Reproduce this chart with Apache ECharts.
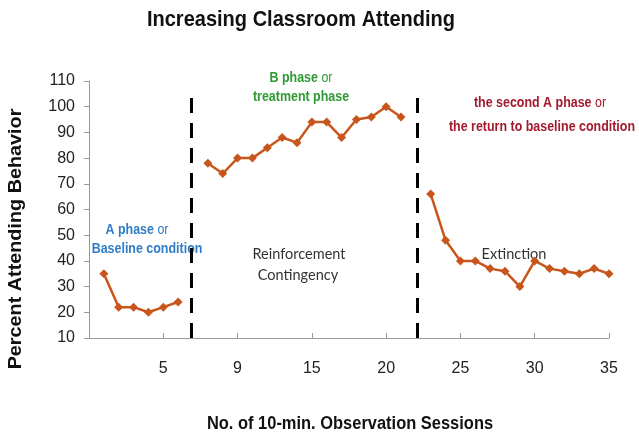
<!DOCTYPE html>
<html>
<head>
<meta charset="utf-8">
<script src="https://cdn.jsdelivr.net/npm/echarts@6/dist/echarts.min.js"></script>
<style>html,body{margin:0;padding:0;background:#fff;}#c{width:639px;height:434px;}</style>
</head>
<body>
<div id="c"></div>
<script>
// Data
var sessions = [1,2,3,4,5,6,7,8,9,10,11,12,13,14,15,16,17,18,19,20,21,22,23,24,25,26,27,28,29,30,31,32,33,34,35];
var attending = [35,22,22,20,22,24,null,78,74,80,80,84,88,86,94,94,88,95,96,100,96,null,66,48,40,40,37,36,30,40,37,36,35,37,35];
var xTickValues = [5,10,15,20,25,30,35];
var xTickLabels = ['5','9','15','20','25','30','35'];
var phaseChangeLines = [6.9, 22.1];
var phaseLineTop = 106;

var SANS = "'Liberation Sans','Arial',sans-serif";
var chart = echarts.init(document.getElementById('c'));
var points = sessions.map(function(s,i){ return [s, attending[i]]; });

var markData = phaseChangeLines.map(function(x){
  return [{coord:[x,10]},{coord:[x,phaseLineTop]}];
});

function rich(x, y, bold, reg, color){
  return {type:'text', x:x, y:y, scaleX:0.83, style:{
    text:'{b|'+bold+'}'+(reg?'{r|'+reg+'}':''), align:'center', verticalAlign:'middle',
    rich:{
      b:{fontFamily:SANS, fontWeight:'bold', fontSize:15, fill:color, color:color},
      r:{fontFamily:SANS, fontWeight:'normal', fontSize:15, fill:color, color:color}
    }
  }};
}
function plain(x, y, text){
  return {type:'text', x:x, y:y, style:{text:text, align:'center', verticalAlign:'middle', fontFamily:'Lato', fontSize:14.5, fill:'#333'}};
}
var blue = '#2F7DC6', green = '#2E9A33', red = '#A31A2D';

chart.setOption({
  animation:false,
  grid:{left:89, right:30, top:81, bottom:96},
  xAxis:{type:'value', min:0, max:35, interval:5,
    axisLine:{show:true, lineStyle:{color:'#999', width:1}},
    axisTick:{show:true, inside:true, length:5, lineStyle:{color:'#999'}},
    splitLine:{show:false},
    axisLabel:{margin:23, fontFamily:SANS, fontSize:16, color:'#222',
      formatter:function(v){ var i = xTickValues.indexOf(v); return i<0 ? '' : xTickLabels[i]; }}
  },
  yAxis:{type:'value', min:10, max:110, interval:10,
    axisLine:{show:true, lineStyle:{color:'#999', width:1}},
    axisTick:{show:true, inside:false, length:5, lineStyle:{color:'#999'}},
    splitLine:{show:false},
    axisLabel:{margin:14, fontFamily:SANS, fontSize:16, color:'#222'}
  },
  series:[{
    type:'line', data:points, connectNulls:false,
    symbol:'diamond', symbolSize:9,
    lineStyle:{color:'#C8561C', width:2.5},
    itemStyle:{color:'#C8561C'},
    markLine:{silent:true, symbol:['none','none'], label:{show:false},
      lineStyle:{color:'#000', width:3, type:[15,10]},
      data:markData}
  }],
  graphic:[
    {type:'text', x:301, y:20, scaleX:0.91, style:{text:'Increasing Classroom Attending', align:'center', verticalAlign:'middle', fontFamily:SANS, fontWeight:'bold', fontSize:22, fill:'#111'}},
    {type:'text', x:350, y:424, scaleX:0.914, style:{text:'No. of 10-min. Observation Sessions', align:'center', verticalAlign:'middle', fontFamily:SANS, fontWeight:'bold', fontSize:18, fill:'#111'}},
    {type:'text', x:16, y:239, rotation:Math.PI/2, scaleX:1.1, style:{text:'Percent Attending Behavior', align:'center', verticalAlign:'middle', fontFamily:SANS, fontWeight:'bold', fontSize:18, fill:'#111'}},
    rich(137, 230, 'A phase ', 'or', blue),
    rich(147, 249, 'Baseline condition', '', blue),
    rich(301, 78, 'B phase ', 'or', green),
    rich(301, 97, 'treatment phase', '', green),
    rich(540, 103, 'the second A phase ', 'or', red),
    rich(542, 127, 'the return to baseline condition', '', red),
    plain(299, 254, 'Reinforcement'),
    plain(298, 275, 'Contingency'),
    plain(514, 254, 'Extinction')
  ]
});
</script>
</body>
</html>
